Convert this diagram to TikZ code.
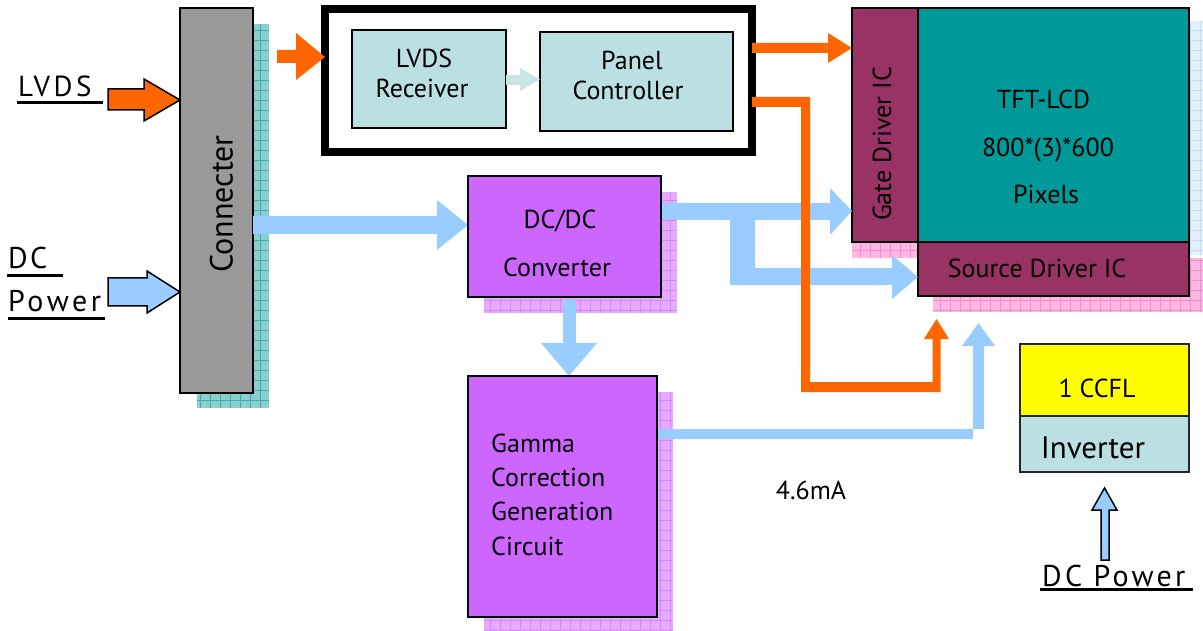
\documentclass[tikz,border=0pt]{standalone}
\usepackage{fontspec}
\setmainfont{PT Sans}
\usetikzlibrary{calc}
\definecolor{orng}{HTML}{FF6600}
\definecolor{lblue}{HTML}{99CCFF}
\definecolor{gray9}{HTML}{999999}
\definecolor{pale}{HTML}{BBE0E3}
\definecolor{palearr}{HTML}{C8E6E8}
\definecolor{purp}{HTML}{CC66FF}
\definecolor{maroon}{HTML}{993366}
\definecolor{teal9}{HTML}{009999}
\definecolor{tealsh}{HTML}{88D0D0}
\definecolor{tealln}{HTML}{44AAAA}
\definecolor{pinksh}{HTML}{FFB8E4}
\definecolor{pinkln}{HTML}{FF88CC}
\definecolor{purpsh}{HTML}{E8AAFF}
\definecolor{purpln}{HTML}{D488FF}
\definecolor{bluesh}{HTML}{E2F0FF}
\definecolor{blueln}{HTML}{C4DEFF}
\definecolor{yel}{HTML}{FFFF00}
\newcommand\hatchbox[4]{%
  \fill[#3] #1 rectangle #2;
  \begin{scope}\clip #1 rectangle #2;
  \draw[#4, line width=0.6pt, step=10pt] #1 grid #2;\end{scope}}
\begin{document}
\begin{tikzpicture}[x=1pt,y=-1pt,
  box/.style={draw=black, line width=2.5pt, inner sep=0pt, outer sep=0pt},
  txt/.style={font=\fontsize{26}{30}\selectfont, inner sep=0pt, anchor=base},
  big/.style={font=\fontsize{29}{32}\selectfont, inner sep=0pt, anchor=base west},
  uline/.style={line width=2.5pt, black}]
\useasboundingbox (0,0) rectangle (1203,631);

% shadows
\hatchbox{(197,24)}{(269,408)}{tealsh}{tealln}
\hatchbox{(484,192)}{(677,313)}{purpsh}{purpln}
\hatchbox{(484,392)}{(673,630)}{purpsh}{purpln}
\hatchbox{(1189,21)}{(1203,255)}{bluesh}{blueln}
\hatchbox{(852,242)}{(918,258)}{pinksh}{pinkln}
\hatchbox{(933,258)}{(1203,312)}{pinksh}{pinkln}

% boxes
\node[box, fill=gray9, minimum width=73, minimum height=385] (conn) at (216.5,200.5) {};
\node[rotate=90, font=\fontsize{32}{34}\selectfont, inner sep=0pt] (connt) at (221.5,204) {Connecter};

\node[draw=black, line width=8pt, inner sep=0pt, outer sep=0pt, minimum width=427, minimum height=143] (ctrl) at (538.5,80.5) {};
\node[box, line width=2pt, fill=pale, minimum width=154, minimum height=98] (rx) at (429,79) {};
\node[box, line width=2pt, fill=pale, minimum width=193, minimum height=99] (pc) at (636.5,81.5) {};
\node[txt] (rxt1) at (424,68) {LVDS};
\node[txt] (rxt2) at (422,98) {Receiver};
\node[txt] (pct1) at (632,70) {Panel};
\node[txt] (pct2) at (628,100) {Controller};

\node[box, fill=maroon, minimum width=66, minimum height=234] (gate) at (885,125) {};
\node[box, fill=teal9, minimum width=271, minimum height=234] (tft) at (1053.5,125) {};
\node[box, fill=maroon, minimum width=271, minimum height=54] (src) at (1053.5,269) {};
\node[rotate=90, font=\fontsize{26}{30}\selectfont, inner sep=0pt] (gatet) at (882,144) {Gate Driver IC};
\node[txt] (tftt1) at (1043.5,109) {TFT-LCD};
\node[txt] (tftt2) at (1048,157) {800*(3)*600};
\node[txt] (tftt3) at (1046,204) {Pixels};
\node[txt] (srct) at (1037,278) {Source Driver IC};

% blue arrows (under purple boxes)
\coordinate (dcin) at (468,225);
\fill[lblue] (conn.east |- 0,216) -- (437,216) -- (437,200) -- (dcin) -- (437,250) -- (437,234) -- (conn.east |- 0,234) -- cycle;
\fill[lblue] (661,203) -- (830,203) -- (830,188) -- (gate.west |- 0,211) -- (830,235) -- (830,220) -- (755,220) -- (755,268) -- (892,268) -- (892,255) -- (src.west |- 0,277) -- (892,299) -- (892,285) -- (730,285) -- (730,220) -- (661,220) -- cycle;
\fill[lblue] (563,300) -- (576,300) -- (576,343) -- (597,343) -- (569,376) -- (541,343) -- (563,343) -- cycle;
\fill[lblue] (657,429) -- (984,429) -- (984,346) -- (995,346) -- (978.5,323) -- (962,346) -- (973,346) -- (973,439) -- (657,439) -- cycle;

\node[box, fill=purp, minimum width=193, minimum height=121] (dcdc) at (564.5,236.5) {};
\node[txt] (dct1) at (560,229) {DC/DC};
\node[txt] (dct2) at (557,277) {Converter};
\node[box, fill=purp, minimum width=189, minimum height=241] (gam) at (562.5,496.5) {};
\node[txt, anchor=base west] (gt1) at (491,452) {Gamma};
\node[txt, anchor=base west] (gt2) at (491,486) {Correction};
\node[txt, anchor=base west] (gt3) at (491,520) {Generation};
\node[txt, anchor=base west] (gt4) at (491,555) {Circuit};

\node[box, draw=black!85, line width=2pt, fill=yel, minimum width=169, minimum height=72] (ccfl) at (1104.5,380) {};
\node[box, draw=black!85, line width=2pt, fill=pale, minimum width=169, minimum height=56] (inv) at (1104.5,444) {};
\node[txt] (ccflt) at (1097,397) {1 CCFL};
\node[txt, font=\fontsize{31}{34}\selectfont] (invt) at (1093,458) {Inverter};

\node[txt] (ma) at (811,499) {4.6mA};

% pale arrow inside controller
\fill[palearr] (rx.east |- 0,75) -- (520,75) -- (520,68) -- (pc.west |- 0,79.5) -- (520,91) -- (520,85) -- (rx.east |- 0,85) -- cycle;

% orange arrows
\fill[orng] (277,50) -- (296,50) -- (296,33) -- (ctrl.west |- 0,57) -- (296,80) -- (296,63) -- (277,63) -- cycle;
\fill[orng] (ctrl.east |- 0,43) -- (828,43) -- (828,33) -- (gate.west |- 0,48) -- (828,63) -- (828,53) -- (ctrl.east |- 0,53) -- cycle;
\fill[orng] (ctrl.east |- 0,97) -- (810,97) -- (810,382) -- (932.5,382) -- (932.5,339) -- (924,339) -- (936.5,319) -- (949,339) -- (940.5,339) -- (940.5,392) -- (801,392) -- (801,107) -- (ctrl.east |- 0,107) -- cycle;

% input arrows with outline
\filldraw[fill=orng, draw=black, line width=1.5pt] (108,89) -- (144,89) -- (144,79) -- (conn.west |- 0,100) -- (144,121) -- (144,110) -- (108,110) -- cycle;
\filldraw[fill=lblue, draw=black, line width=1.5pt] (108,278) -- (147,278) -- (147,271) -- (conn.west |- 0,292) -- (147,313) -- (147,306) -- (108,306) -- cycle;
\coordinate (invtip) at (1104.5,488);
\filldraw[fill=lblue, draw=black, line width=1.5pt] (1101,560) -- (1101,510) -- (1092,510) -- (invtip) -- (1117,510) -- (1109,510) -- (1109,560) -- cycle;

% labels
\node[big, font=\fontsize{29}{32}\selectfont\addfontfeature{LetterSpace=12}] (lvds) at (18,97) {LVDS};
\draw[uline] (17,102.5) -- (103,102.5);
\node[big, font=\fontsize{30}{32}\selectfont\addfontfeature{LetterSpace=8}] (dc1) at (8,269) {DC};
\draw[uline] (7,275.5) -- (63,275.5);
\node[big, font=\fontsize{30}{32}\selectfont\addfontfeature{LetterSpace=12}] (dc2) at (8,312) {Power};
\draw[uline] (8,318.5) -- (105,318.5);
\node[big, font=\fontsize{30}{32}\selectfont\addfontfeature{LetterSpace=11}] (dc3) at (1042,586) {DC Power};
\draw[uline] (1040,589.5) -- (1193,589.5);
\end{tikzpicture}
\end{document}
